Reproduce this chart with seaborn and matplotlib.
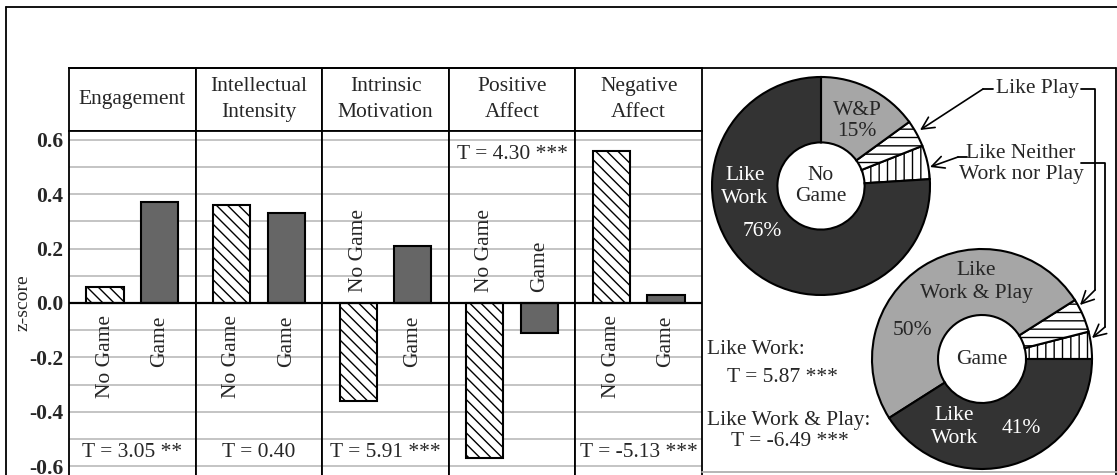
import matplotlib
matplotlib.use('Agg')
import matplotlib.pyplot as plt
import seaborn as sns
import numpy as np

# --- data ---
measures = ['Engagement', 'Intellectual\nIntensity', 'Intrinsic\nMotivation',
            'Positive\nAffect', 'Negative\nAffect']
groups = ['No Game', 'Game']
no_game = [0.06, 0.36, -0.36, -0.57, 0.56]
game = [0.37, 0.33, 0.21, -0.11, 0.03]
t_text = ['T = 3.05 **', 'T = 0.40', 'T = 5.91 ***', 'T = 4.30 ***', 'T = -5.13 ***']
t_top = [False, False, False, True, False]   # Positive Affect label sits at the top

pie_labels = ['Like Neither', 'Like Play', 'Like Work & Play', 'Like Work']
pie_nogame = [5, 4, 15, 76]
pie_game = [4, 5, 50, 41]

sns.set_style('white')
plt.rcParams['font.family'] = ['Liberation Serif', 'DejaVu Serif']
plt.rcParams['hatch.linewidth'] = 1.0

W, H = 1117, 475
fig = plt.figure(figsize=(W / 100, H / 100), dpi=100)


def box(x0, y0, x1, y1):
    return [x0 / W, 1 - y1 / H, (x1 - x0) / W, (y1 - y0) / H]


fs = 15.5
edges = np.linspace(69, 702, 6)
dark = '#333333'
light = '#a6a6a6'
bar_gray = '#666666'

for i in range(5):
    x0, x1 = edges[i], edges[i + 1]
    # header cell
    hx = fig.add_axes(box(x0, 68, x1, 131))
    hx.set_xticks([])
    hx.set_yticks([])
    for s in hx.spines.values():
        s.set_color('black')
        s.set_linewidth(1.3)
    hx.text(0.5, 0.5, measures[i], ha='center', va='center', fontsize=fs,
            linespacing=1.45, transform=hx.transAxes)

    # bar cell
    ax = fig.add_axes(box(x0, 131, x1, 475))
    vals = [no_game[i], game[i]]
    sns.barplot(x=groups, y=vals, hue=groups, order=groups, hue_order=groups,
                palette=['white', bar_gray], width=0.68, edgecolor='black',
                linewidth=1.5, legend=False, ax=ax, zorder=3)
    ax.patches[0].set_hatch('\\\\\\')
    ax.set_xlim(-0.66, 1.66)
    ax.set_ylim(-0.633, 0.633)
    ax.set_yticks(np.arange(-0.6, 0.61, 0.2))
    ax.set_yticks(np.arange(-0.5, 0.6, 0.2), minor=True)
    ax.grid(True, which='both', axis='y', color='#c4c4c4', lw=1.4, zorder=0)
    ax.set_axisbelow(True)
    ax.set_xticks([])
    ax.set_xlabel('')
    ax.set_ylabel('')
    ax.tick_params(axis='y', which='both', length=0, pad=4)
    if i == 0:
        ax.set_yticklabels(['%.1f' % v for v in np.arange(-0.6, 0.61, 0.2)],
                           fontsize=fs, fontweight='bold')
        ax.set_ylabel('z-score', fontsize=14)
        ax.yaxis.set_label_coords(-0.30, 0.5)
    else:
        ax.set_yticklabels([])
    ax.axhline(0, color='black', lw=1.6, zorder=4)
    for s in ['left', 'right', 'top']:
        ax.spines[s].set_color('black')
        ax.spines[s].set_linewidth(1.3)
    ax.spines['bottom'].set_visible(False)

    for j, v in enumerate(vals):
        if v >= 0:
            ax.text(j, -0.045, groups[j], rotation=90, ha='center', va='top',
                    fontsize=fs, zorder=5)
        else:
            ax.text(j, 0.04, groups[j], rotation=90, ha='center', va='bottom',
                    fontsize=fs, zorder=5)
    ty = 0.545 if t_top[i] else -0.552
    ax.text(0.5, ty, t_text[i], ha='center', va='center', fontsize=fs, zorder=5)


# --- donut charts ---
def donut(cx, cy, r, vals, start):
    pad = 1.08
    px = fig.add_axes(box(cx - r * pad, cy - r * pad, cx + r * pad, cy + r * pad))
    wedges, _ = px.pie(vals, startangle=start, counterclock=True,
                       colors=['white', 'white', light, dark],
                       wedgeprops=dict(width=0.6, edgecolor='black', linewidth=1.5))
    wedges[0].set_hatch('||')
    wedges[1].set_hatch('--')
    px.set_xlim(-pad, pad)
    px.set_ylim(-pad, pad)
    px.set_aspect('equal')
    px.axis('off')
    return px


top = donut(821, 186, 109, pie_nogame, 3.6)
top.text(0.33, 0.60, 'W&P\n%d%%' % pie_nogame[2], ha='center', va='center',
         fontsize=fs, linespacing=1.15)
top.text(-0.70, -0.01, 'Like\nWork', ha='center', va='center', fontsize=fs,
         color='white', linespacing=1.25)
top.text(-0.54, -0.42, '%d%%' % pie_nogame[3], ha='center', va='center',
         fontsize=fs, color='white')
top.text(0, 0, 'No\nGame', ha='center', va='center', fontsize=fs, linespacing=1.1)

bot = donut(982, 359, 110, pie_game, 0)
bot.text(-0.05, 0.70, 'Like\nWork & Play', ha='center', va='center', fontsize=fs,
         linespacing=1.25)
bot.text(-0.63, 0.26, '%d%%' % pie_game[2], ha='center', va='center', fontsize=fs)
bot.text(0, 0, 'Game', ha='center', va='center', fontsize=fs)
bot.text(-0.25, -0.62, 'Like\nWork', ha='center', va='center', fontsize=fs,
         color='white', linespacing=1.3)
bot.text(0.36, -0.63, '%d%%' % pie_game[3], ha='center', va='center',
         fontsize=fs, color='white')

# --- overlay: frame, callouts, side text ---
ov = fig.add_axes([0, 0, 1, 1])
ov.set_xlim(0, W)
ov.set_ylim(H, 0)
ov.axis('off')
ov.patch.set_alpha(0)
k = dict(color='black', lw=1.3)
ov.plot([6, 6], [7, H], **k)
ov.plot([6, W], [7, 7], **k)
ov.plot([69, W - 1], [68, 68], **k)
ov.plot([W - 1.5, W - 1.5], [68, H], **k)
ov.plot([702, W], [472, 472], color='#b0b0b0', lw=1.3)

ov.text(1037, 89, 'Like Play', ha='center', va='center', fontsize=fs)
ov.text(1021, 164, 'Like Neither\nWork nor Play', ha='center', va='center',
        fontsize=fs, linespacing=1.1)
arr = dict(arrowstyle='->', color='black', lw=1.2, mutation_scale=22,
           shrinkA=0, shrinkB=0)
ov.plot([983, 993], [89, 89], **k)
ov.annotate('', xy=(920, 130), xytext=(983, 89), arrowprops=arr)
ov.plot([1081, 1095, 1095], [89, 89, 290], **k)
ov.annotate('', xy=(1080, 305), xytext=(1095, 290), arrowprops=arr)
ov.plot([958, 967], [157, 157], **k)
ov.annotate('', xy=(930, 167), xytext=(958, 157), arrowprops=arr)
ov.plot([1081, 1105, 1105], [163, 163, 327], **k)
ov.annotate('', xy=(1092, 338), xytext=(1105, 327), arrowprops=arr)

ov.text(707, 350, 'Like Work:', ha='left', va='center', fontsize=fs)
ov.text(782, 377, 'T = 5.87 ***', ha='center', va='center', fontsize=fs)
ov.text(707, 420, 'Like Work & Play:', ha='left', va='center', fontsize=fs)
ov.text(790, 441, 'T = -6.49 ***', ha='center', va='center', fontsize=fs)

fig.savefig('out.png', dpi=100)
